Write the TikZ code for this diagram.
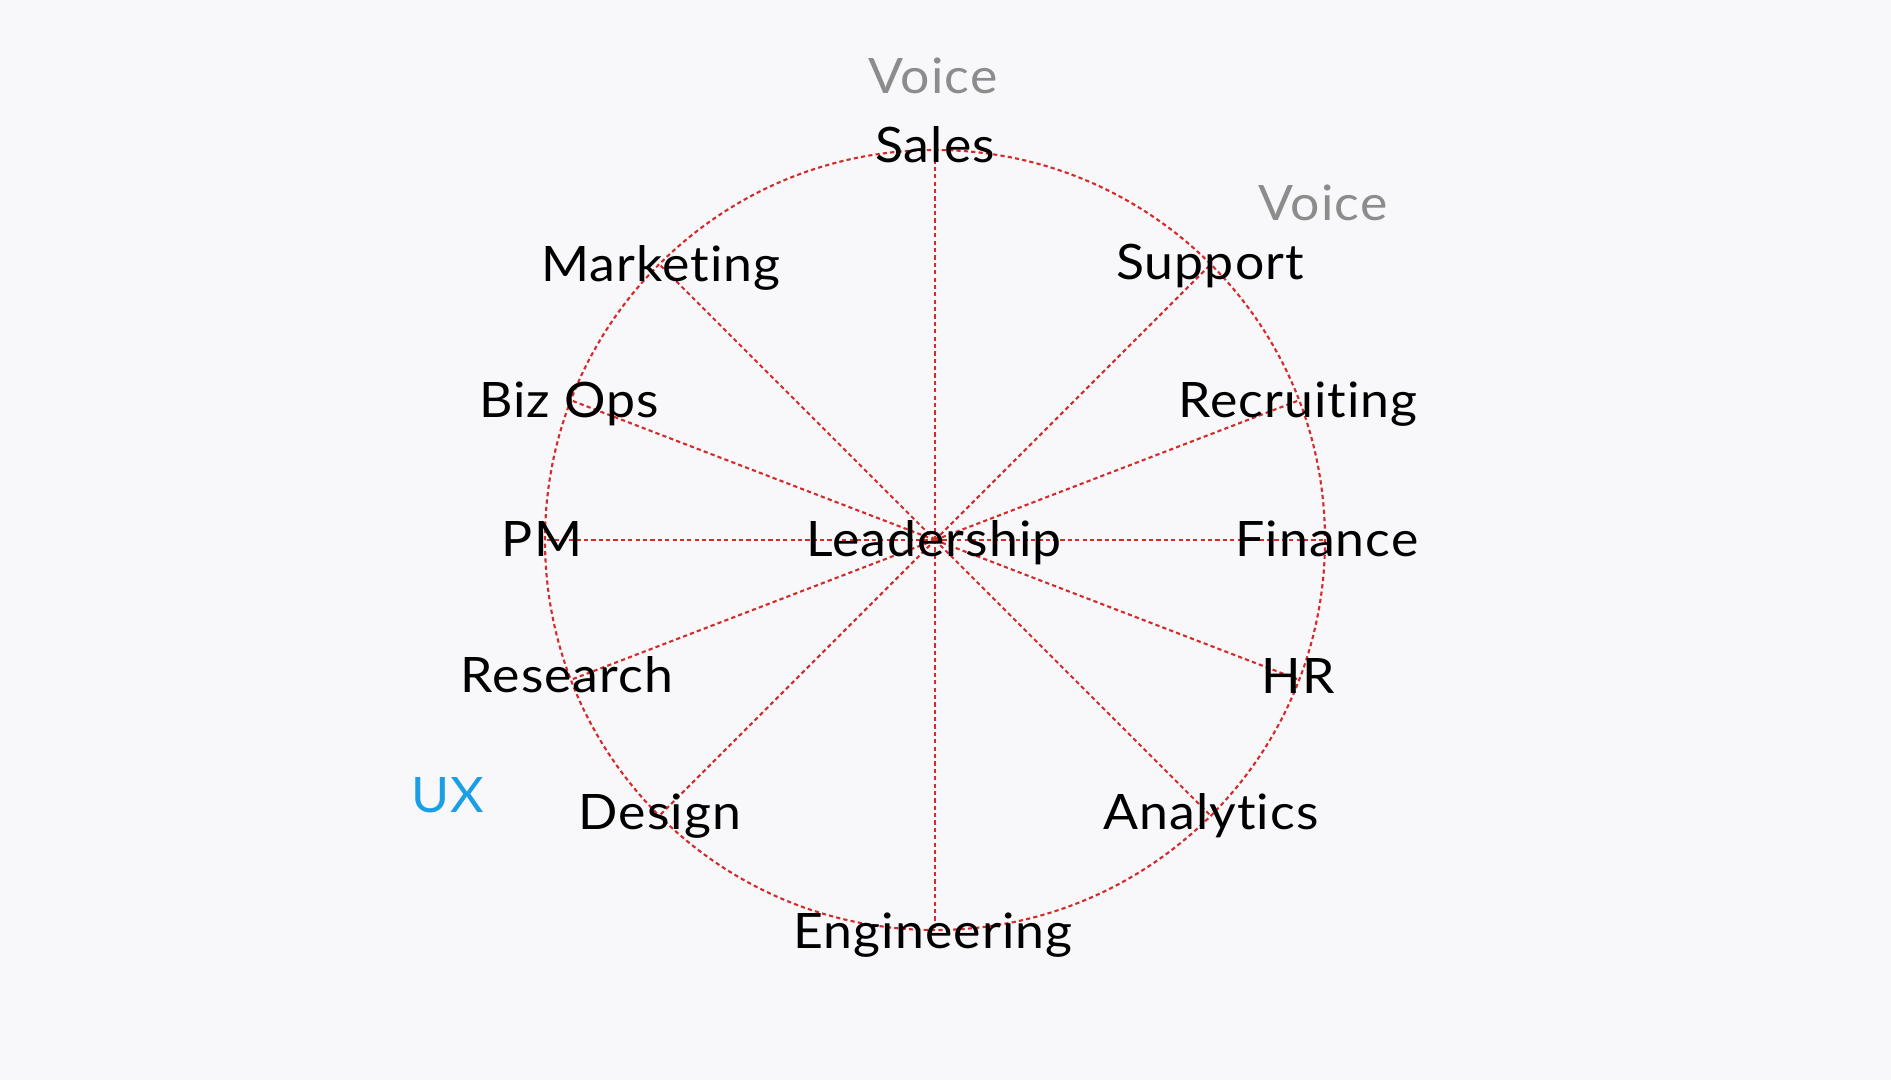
\documentclass[tikz,border=0pt]{standalone}
\usepackage{fontspec}
\setmainfont{Lato}[Ligatures={NoCommon}, FakeStretch=1.06, LetterSpace=2.2]
\usetikzlibrary{calc}
\definecolor{bg}{HTML}{F8F8FA}
\definecolor{spoke}{HTML}{D42A2A}
\definecolor{voicegray}{HTML}{8C8C8C}
\definecolor{uxblue}{HTML}{1A9EE6}
\tikzset{
  redline/.style={draw=spoke, line width=1.2pt, dash pattern=on 2.4pt off 1.8pt},
  lbl/.style={anchor=base, inner sep=0pt, font=\fontsize{27.8}{30}\selectfont, text=black},
  voicelbl/.style={lbl, text=voicegray},
  uxlbl/.style={lbl, text=uxblue}
}
\begin{document}
\begin{tikzpicture}[x=0.02cm,y=-0.02cm]
\fill[bg] (0,0) rectangle (1891,1080);
\useasboundingbox (0,0) rectangle (1891,1080);
\coordinate (c) at (935,540);
\draw[redline] (c) circle[radius=390];
% spoke end points on the circle (angles measured in image space, y down)
\foreach \n/\a in {sales/90, support/45, recruiting/21, finance/0, hr/-21, analytics/-45, engineering/-90, design/-135, research/-159, pm/180, bizops/159, marketing/135}{
  \coordinate (p\n) at ($(c)+({390*cos(\a)},{-390*sin(\a)})$);
}
\foreach \n in {sales, support, recruiting, finance, hr, analytics, engineering, design, research, pm, bizops, marketing}{
  \draw[redline] (c) -- (p\n);
}
% labels
\node[voicelbl] (voicetop) at (933,93) {Voice};
\node[lbl] (sales) at (935,162) {Sales};
\node[voicelbl] (voiceright) at (1323,220) {Voice};
\node[lbl] (support) at (1210,279) {Support};
\node[lbl] (marketing) at (661,281) {Marketing};
\node[lbl] (bizops) at (569,417) {Biz Ops};
\node[lbl] (recruiting) at (1298,417) {Recruiting};
\node[lbl] (pm) at (542,556) {PM};
\node[lbl] (leadership) at (934,556) {Leadership};
\node[lbl] (finance) at (1327,556) {Finance};
\node[lbl] (research) at (567,692) {Research};
\node[lbl] (hr) at (1298,693) {HR};
\node[uxlbl] (ux) at (448,812) {UX};
\node[lbl] (design) at (660,829) {Design};
\node[lbl] (analytics) at (1211,829) {Analytics};
\node[lbl] (engineering) at (933,948) {Engineering};
\end{tikzpicture}
\end{document}
